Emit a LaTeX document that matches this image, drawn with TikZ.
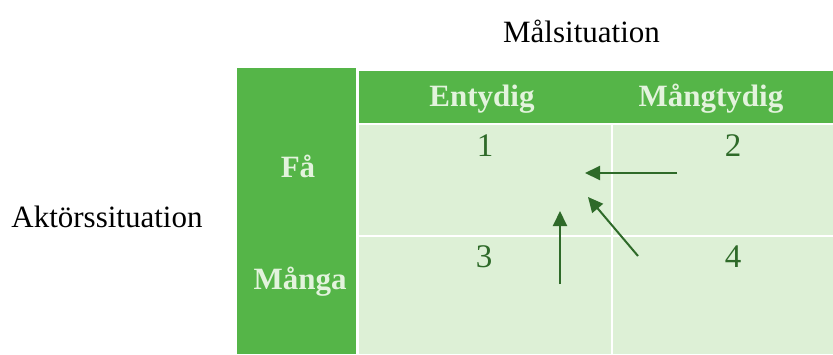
\documentclass[tikz,border=0pt]{standalone}
\usepackage{fontspec}
\setmainfont{Liberation Serif}
\usetikzlibrary{arrows.meta}
\definecolor{hdrgreen}{HTML}{55B548}
\definecolor{cellgreen}{HTML}{DDF0D6}
\definecolor{hdrtext}{HTML}{E3F3DD}
\definecolor{darkgreen}{HTML}{2E6A29}
\tikzset{
  box/.style={fill=#1, draw=none, inner sep=0pt, outer sep=0pt, anchor=north west},
  label/.style={inner sep=0pt, anchor=base, font=\fontsize{31}{36}\selectfont},
  hdr/.style={label, text=hdrtext, font=\fontsize{31}{36}\selectfont\bfseries},
  num/.style={label, text=darkgreen, font=\fontsize{33}{38}\selectfont},
  flow/.style={draw=darkgreen, line width=2pt, -{Triangle[length=15pt,width=14pt]}}
}
\begin{document}
\begin{tikzpicture}[x=1pt,y=-1pt]
\useasboundingbox (0,0) rectangle (833,354);
% side and top headers
\node[box=hdrgreen, minimum width=119pt, minimum height=286pt] (side) at (237,68) {};
\node[box=hdrgreen, minimum width=474.3pt, minimum height=52.6pt] (top) at (358.7,70.7) {};
% four cells
\node[box=cellgreen, minimum width=252.3pt, minimum height=110pt] (c1) at (358.7,125) {};
\node[box=cellgreen, minimum width=220pt, minimum height=110pt] (c2) at (613,125) {};
\node[box=cellgreen, minimum width=252.3pt, minimum height=117pt] (c3) at (358.7,237) {};
\node[box=cellgreen, minimum width=220pt, minimum height=117pt] (c4) at (613,237) {};
% axis titles
\node[label] (mal) at (581.5,42) {Målsituation};
\node[label] (akt) at (107,227) {Aktörssituation};
% header labels
\node[hdr] (ent) at (482,106) {Entydig};
\node[hdr] (mang) at (711,106) {Mångtydig};
\node[hdr] (fa) at (298,177) {Få};
\node[hdr] (manga) at (300,289) {Många};
% cell numbers
\node[num] (n1) at (485,156) {1};
\node[num] (n2) at (733,156) {2};
\node[num] (n3) at (484,267) {3};
\node[num] (n4) at (733,267) {4};
% movement arrows
\coordinate (hA) at (677,173);
\coordinate (hB) at (585,173);
\coordinate (dA) at (638,256);
\coordinate (dB) at (588,197);
\coordinate (vA) at (560,284);
\coordinate (vB) at (560,211);
\draw[flow] (hA) -- (hB);
\draw[flow] (dA) -- (dB);
\draw[flow] (vA) -- (vB);
\end{tikzpicture}
\end{document}
